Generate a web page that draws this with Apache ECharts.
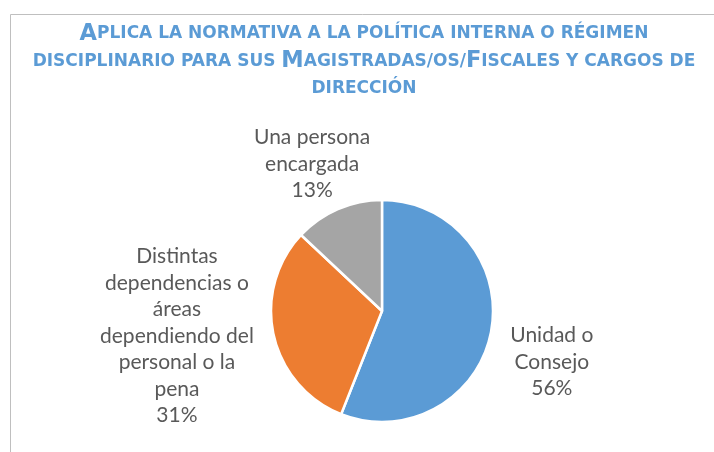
<!DOCTYPE html>
<html><head><meta charset="utf-8">
<script src="https://cdn.jsdelivr.net/npm/echarts@6/dist/echarts.min.js"></script>
<style>html,body{margin:0;padding:0;background:#fff}#c{width:714px;height:452px}</style>
</head><body><div id="c"></div>
<script>
const categories = ['Unidad o\nConsejo', 'Distintas\ndependencias o\náreas\ndependiendo del\npersonal o la\npena', 'Una persona\nencargada'];
const values = [56, 31, 13];
const colors = ['#5B9BD5', '#ED7D31', '#A5A5A5'];
// label nudges (dx, dy) relative to the library's outside label anchor
const labelNudge = [[44, 28], [-80, -2], [-16, -34]];

const chart = echarts.init(document.getElementById('c'));
const tf = 'DejaVu Sans';
const big = {fontSize: 22.5, fontWeight: 'bold', color: '#5B9BD5', fontFamily: tf, lineHeight: 27.5};
const sm = {fontSize: 17, fontWeight: 'bold', color: '#5B9BD5', fontFamily: tf, lineHeight: 27.5};
chart.setOption({
  animation: false,
  graphic: [{type: 'rect', shape: {x: 10.5, y: 14.5, width: 720, height: 460}, style: {fill: 'none', stroke: '#BFBFBF', lineWidth: 1}}],
  title: {
    text: '{b|A}{s|PLICA LA NORMATIVA A LA POLÍTICA INTERNA O RÉGIMEN}\n{s|DISCIPLINARIO PARA SUS }{b|M}{s|AGISTRADAS/OS/}{b|F}{s|ISCALES Y CARGOS DE}\n{s|DIRECCIÓN}',
    left: 359, top: 15, textAlign: 'center',
    textStyle: {align: 'center', lineHeight: 27.5, rich: {b: big, s: sm}}
  },
  series: [{
    type: 'pie', center: [382, 311], radius: 111, startAngle: 90, clockwise: true,
    data: categories.map((n, i) => ({name: n, value: values[i], itemStyle: {color: colors[i]}})),
    itemStyle: {borderColor: '#fff', borderWidth: 2.5},
    label: {show: true, position: 'outside', formatter: '{b}\n{d}%', color: '#595959', fontSize: 21, lineHeight: 26.5, fontFamily: 'Lato'},
    labelLine: {show: false, length: 12, length2: 0},
    labelLayout: function (p) {
      const n = labelNudge[p.dataIndex];
      return {align: 'center', dx: n[0], dy: n[1]};
    }
  }]
});
</script></body></html>
